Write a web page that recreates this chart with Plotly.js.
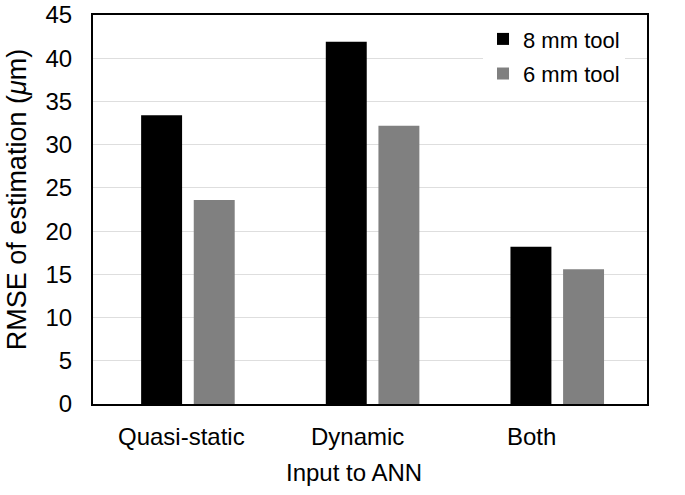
<!DOCTYPE html>
<html>
<head>
<meta charset="utf-8">
<script src="https://cdn.plot.ly/plotly-3.0.1.min.js"></script>
<style>html,body{margin:0;padding:0;background:#fff;}#chart{width:685px;height:495px;}</style>
</head>
<body>
<div id="chart"></div>
<script>
var categories = ["Quasi-static", "Dynamic", "Both"];
var tool8mm = [33.4, 41.9, 18.2];
var tool6mm = [23.6, 32.2, 15.6];
var seriesNames = ["8 mm tool", "6 mm tool"];
var yTicks = [0, 5, 10, 15, 20, 25, 30, 35, 40, 45];
var xTitle = "Input to ANN";
var yTitle = "RMSE of estimation (<i>μ</i>m)";

// horizontal offsets (px) of the category labels as drawn in the reference
var labelShift = [-6, -15, -26];

var fam = "Liberation Sans, Arial, sans-serif";
function f(s) { return {family: fam, size: s, color: "#000"}; }

var traces = [
  {type: "bar", name: seriesNames[0], x: categories, y: tool8mm, legendgroup: "a",
   marker: {color: "#000000", line: {width: 0}}},
  {type: "bar", name: seriesNames[1], x: categories, y: tool6mm, legendgroup: "b",
   marker: {color: "#808080", line: {width: 0}}}
];

var annotations = categories.map(function (c, i) {
  return {text: c, x: c, xref: "x", y: 0, yref: "paper", xanchor: "center", yanchor: "middle",
          xshift: labelShift[i], yshift: -32, showarrow: false, font: f(24)};
});
annotations.push({text: xTitle, x: 0.5, xref: "paper", y: 0, yref: "paper",
  xanchor: "center", yanchor: "middle", xshift: -16, yshift: -68, showarrow: false, font: f(24)});
annotations.push({text: yTitle, x: 0, xref: "paper", y: 0.524, yref: "paper", textangle: -90,
  xanchor: "center", yanchor: "middle", xshift: -76, showarrow: false, font: f(27)});

var layout = {
  width: 685, height: 495,
  margin: {l: 93, r: 38, t: 15, b: 91},
  paper_bgcolor: "#fff", plot_bgcolor: "#fff",
  font: f(22),
  barmode: "group", bargap: 0.43, bargroupgap: 0.222,
  showlegend: true,
  legend: {x: 0.704, y: 0.992, xanchor: "left", yanchor: "top", bgcolor: "#fff",
           font: f(22), tracegroupgap: 3, traceorder: "grouped"},
  xaxis: {
    automargin: false, range: [-0.514, 2.486],
    showline: true, mirror: true, linecolor: "#000", linewidth: 2,
    ticks: "", showticklabels: false
  },
  yaxis: {
    automargin: false,
    range: [0, 45], tickvals: yTicks, ticktext: yTicks.map(String),
    ticklabeloverflow: "allow",
    showline: true, mirror: true, linecolor: "#000", linewidth: 2,
    showgrid: true, gridcolor: "#dedede", gridwidth: 1, zeroline: false,
    ticks: "", ticklabelstandoff: 14, tickfont: f(24)
  },
  annotations: annotations
};

Plotly.newPlot("chart", traces, layout, {displayModeBar: false, staticPlot: true});
</script>
</body>
</html>
